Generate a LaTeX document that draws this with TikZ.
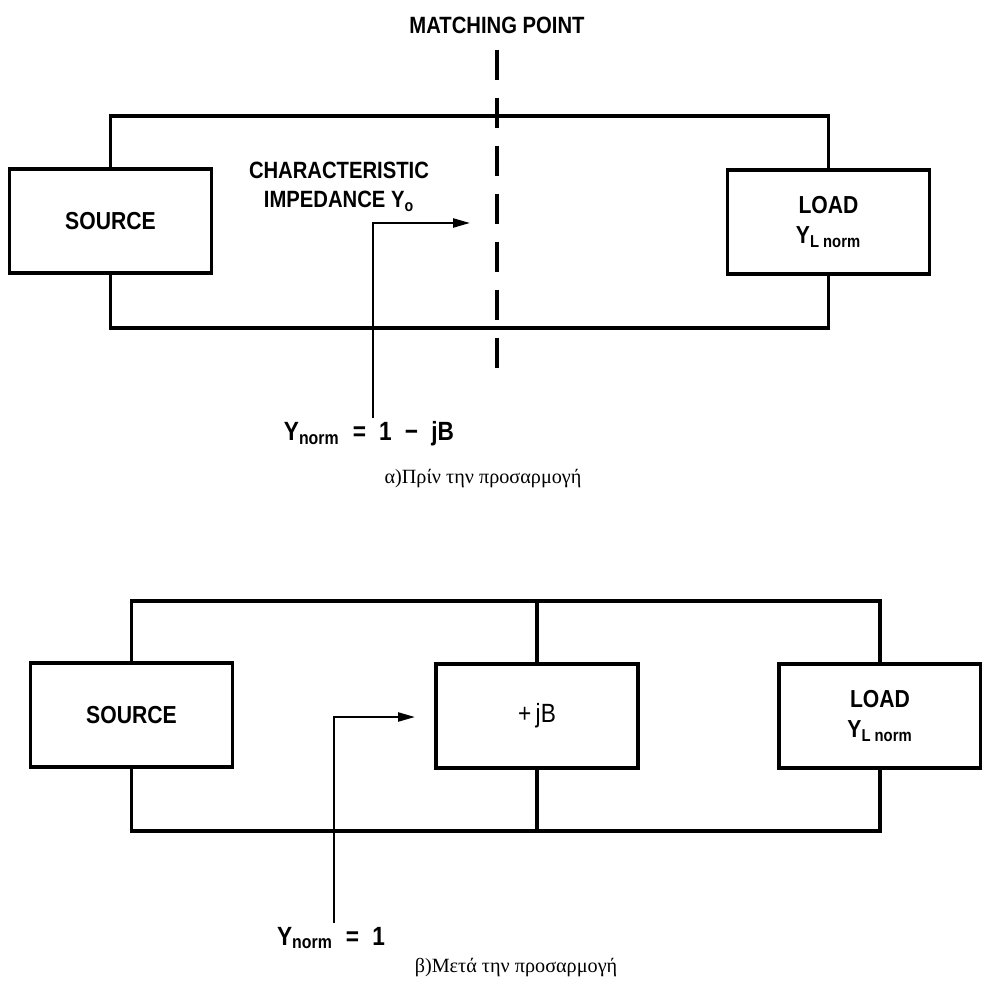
\documentclass[tikz,border=0pt]{standalone}
\usepackage{fontspec}
\setmainfont{Liberation Serif}
\newfontfamily\blockfont[FakeStretch=0.86]{Liberation Sans}
\usepackage{tikz}
\usetikzlibrary{arrows.meta}
\tikzset{
  wire/.style={line width=2pt},
  blk/.style={draw,line width=2pt,minimum width=40.4mm,minimum height=20.8mm,
    inner sep=0pt,align=center,font=\blockfont\bfseries\fontsize{14}{17.5}\selectfont},
  cutln/.style={line width=2pt,dash pattern=on 6mm off 3.6mm},
  feed/.style={line width=1.3pt,-{Triangle[length=3.4mm,width=1.8mm]}},
  lbl/.style={font=\blockfont\bfseries\fontsize{13.4}{16.5}\selectfont,align=center},
  eqlbl/.style={font=\blockfont\bfseries\fontsize{15}{18}\selectfont,inner sep=2pt},
  capt/.style={font=\fontsize{11.5}{14}\selectfont},
}

\begin{document}
\begin{tikzpicture}[x=0.2mm,y=-0.2mm]
        \useasboundingbox (0,0) rectangle (981,983);
        % a) before matching
        \node[lbl] (mp) at (497,25) {MATCHING POINT};
        \node[blk] (srcA) at (110.5,221) {SOURCE};
        \node[blk] (loadA) at (828.5,222) {LOAD\\Y\textsubscript{L norm}};
        \coordinate (topA) at (497,116);
        \coordinate (botA) at (497,328);
        \draw[wire] (srcA.north) |- (topA) -| (loadA.north);
        \draw[wire] (srcA.south) |- (botA) -| (loadA.south);
        % matching point
        \coordinate (mpTop) at (497,50);
        \coordinate (mpBot) at (497,375);
        \draw[cutln] (mpTop) -- (mpBot);
        \node[lbl] (chA) at (339,187) {CHARACTERISTIC\\IMPEDANCE Y\textsubscript{o}};
        \node[eqlbl] (ynA) at (369,434) {Y\textsubscript{norm}\enspace=\enspace1\enspace−\enspace jB};
        \coordinate (tipA) at (470,223);
        \draw[feed] ([xshift=0.8mm]ynA.north) |- (tipA);
        \node[capt] (capA) at (483,479) {α)Πρίν την προσαρμογή};
        % b) after matching, shunt +jB
        \node[blk] (srcB) at (131.5,715) {SOURCE};
        \node[blk] (jb) at (537,716) {\mdseries\fontsize{15}{18}\selectfont +\,jB};
        \node[blk] (loadB) at (880,716) {LOAD\\Y\textsubscript{L norm}};
        \coordinate (topB) at (537,601);
        \coordinate (botB) at (537,831);
        \draw[wire] (srcB.north) |- (topB) -| (loadB.north);
        \draw[wire] (srcB.south) |- (botB) -| (loadB.south);
        \draw[wire] (jb.north) -- (topB);
        \draw[wire] (jb.south) -- (botB);
        \node[eqlbl] (ynB) at (331,938) {Y\textsubscript{norm}\enspace=\enspace1};
        \coordinate (tipB) at (415,717);
        \draw[feed] ([xshift=0.6mm]ynB.north) |- (tipB);
        \node[capt] (capB) at (516,968) {β)Μετά την προσαρμογή};
      \end{tikzpicture}
\end{document}
